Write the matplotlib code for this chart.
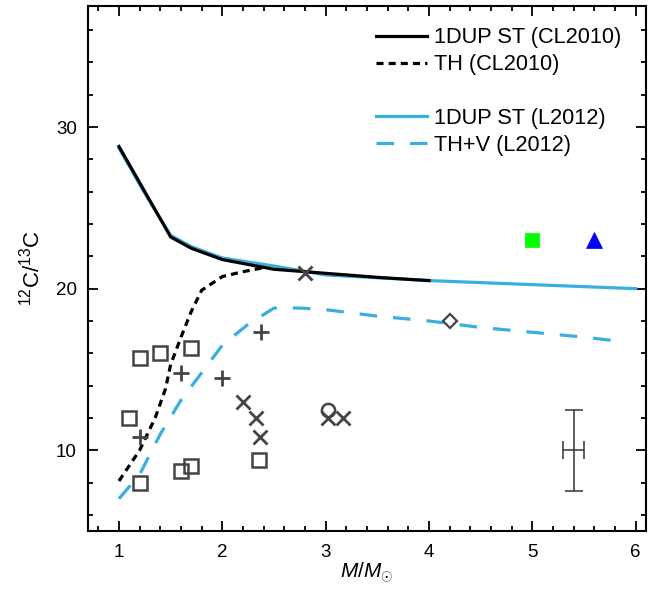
import numpy as np
import matplotlib
matplotlib.use('Agg')
import matplotlib.pyplot as plt
from matplotlib.lines import Line2D
from matplotlib.ticker import MultipleLocator

plt.rcParams['font.family'] = ['Liberation Sans', 'DejaVu Sans']
plt.rcParams['mathtext.fontset'] = 'custom'
plt.rcParams['mathtext.rm'] = 'Liberation Sans'
plt.rcParams['mathtext.it'] = 'Liberation Sans:italic'

# model curves
st_cl_mass = [1.0, 1.25, 1.5, 1.7, 2.0, 2.5, 3.0, 3.5, 4.0]
st_cl_ratio = [28.8, 26.0, 23.2, 22.5, 21.8, 21.2, 20.95, 20.7, 20.5]

th_cl_mass = [1.0, 1.2, 1.35, 1.45, 1.5, 1.6, 1.7, 1.8, 2.0, 2.2, 2.4]
th_cl_ratio = [8.1, 10.0, 12.0, 13.8, 15.3, 17.0, 18.6, 19.9, 20.75, 21.05, 21.3]

st_l_mass = [1.0, 1.25, 1.5, 1.7, 2.0, 2.5, 3.0, 4.0, 5.0, 6.0]
st_l_ratio = [28.7, 25.9, 23.3, 22.6, 21.9, 21.4, 20.85, 20.5, 20.25, 20.0]

thv_l_mass = [1.0, 1.2, 1.4, 1.6, 2.0, 2.25, 2.5, 2.75, 3.0, 3.5, 4.0, 4.5, 5.0, 5.5, 5.9]
thv_l_ratio = [7.0, 8.5, 11.0, 13.1, 16.5, 17.8, 18.8, 18.8, 18.7, 18.3, 18.0, 17.6, 17.3, 17.0, 16.7]

# observed stars
sq_mass = [1.1, 1.2, 1.4, 1.7, 1.2, 1.6, 1.7, 2.35]
sq_ratio = [12.0, 15.7, 16.0, 16.3, 8.0, 8.7, 9.0, 9.4]

plus_mass = [1.2, 1.6, 2.0, 2.37]
plus_ratio = [10.8, 14.8, 14.5, 17.3]

x_mass = [2.2, 2.33, 2.36, 2.8, 3.02, 3.17]
x_ratio = [13.0, 12.0, 10.8, 21.0, 12.0, 12.0]

circ_mass = [3.02]
circ_ratio = [12.5]

dia_mass = [4.2]
dia_ratio = [18.0]

green_mass = [5.0]
green_ratio = [23.0]

tri_mass = [5.6]
tri_ratio = [23.0]

err_mass = [5.4]
err_ratio = [10.0]
err_dx = [0.1]
err_dy = [2.5]

blue = '#3aaede'
grey = '#444444'

fig = plt.figure(figsize=(6.64, 5.92), dpi=100)
ax = fig.add_axes([0.1325, 0.103, 0.973 - 0.1325, 0.99 - 0.103])

ax.plot(st_l_mass, st_l_ratio, color=blue, lw=2.3, zorder=2)
ax.plot(thv_l_mass, thv_l_ratio, color=blue, lw=2.3, dashes=(5.5, 5), zorder=2)
ax.plot(st_cl_mass, st_cl_ratio, color='black', lw=2.3, zorder=3)
ax.plot(th_cl_mass, th_cl_ratio, color='black', lw=2.3, dashes=(2.2, 1.6), zorder=3)

ax.plot(sq_mass, sq_ratio, ls='none', marker='s', ms=9.5, mfc='none', mec=grey, mew=1.8, zorder=4)
ax.plot(plus_mass, plus_ratio, ls='none', marker='+', ms=12, mec=grey, mew=2.0, zorder=4)
ax.plot(x_mass, x_ratio, ls='none', marker='x', ms=10.5, mec=grey, mew=2.0, zorder=4)
ax.plot(circ_mass, circ_ratio, ls='none', marker='o', ms=9.5, mfc='none', mec=grey, mew=1.8, zorder=4)
ax.plot(dia_mass, dia_ratio, ls='none', marker='D', ms=7.5, mfc='white', mec=grey, mew=1.6, zorder=4)
ax.plot(green_mass, green_ratio, ls='none', marker='s', ms=10.5, mfc='#00ff00', mec='#00ff00', mew=0.5, zorder=4)
ax.plot(tri_mass, tri_ratio, ls='none', marker='^', ms=11, mfc='#0000ff', mec='#0000ff', mew=0.5, zorder=4)

ax.errorbar(err_mass, err_ratio, xerr=err_dx, yerr=err_dy, fmt='none', ecolor='#333333',
            elinewidth=1.1, capsize=6.5, capthick=1.1)

ax.set_xlim(0.7, 6.1)
ax.set_ylim(5, 37.5)
ax.xaxis.set_major_locator(MultipleLocator(1))
ax.xaxis.set_minor_locator(MultipleLocator(0.2))
ax.yaxis.set_major_locator(MultipleLocator(10))
ax.yaxis.set_minor_locator(MultipleLocator(2))
ax.tick_params(which='both', direction='in', top=True, right=True, width=1.3, labelsize=13.5)
ax.tick_params(axis='x', which='both', pad=9)
ax.tick_params(axis='y', which='both', pad=8)
ax.tick_params(which='major', length=7)
ax.tick_params(which='minor', length=3.6)
for s in ax.spines.values():
    s.set_linewidth(1.5)

ax.set_xlabel(r'$M/M_{\odot}$', fontsize=15, labelpad=0)
ax.set_ylabel(r'$^{12}$C/$^{13}$C', fontsize=16, labelpad=8)

handles = [
    Line2D([], [], color='black', lw=2.3),
    Line2D([], [], color='black', lw=2.3, dashes=(2.2, 1.6)),
    Line2D([], [], color='none'),
    Line2D([], [], color=blue, lw=2.3),
    Line2D([], [], color=blue, lw=2.3, dashes=(5.5, 5)),
]
labels = ['1DUP ST (CL2010)', 'TH (CL2010)', ' ', '1DUP ST (L2012)', 'TH+V (L2012)']
ax.legend(handles, labels, loc='upper right', bbox_to_anchor=(0.972, 0.976), frameon=False,
          fontsize=15.7, handlelength=2.34, handletextpad=0.32, labelspacing=0.27, borderaxespad=0)

plt.savefig('out.png', dpi=100)
